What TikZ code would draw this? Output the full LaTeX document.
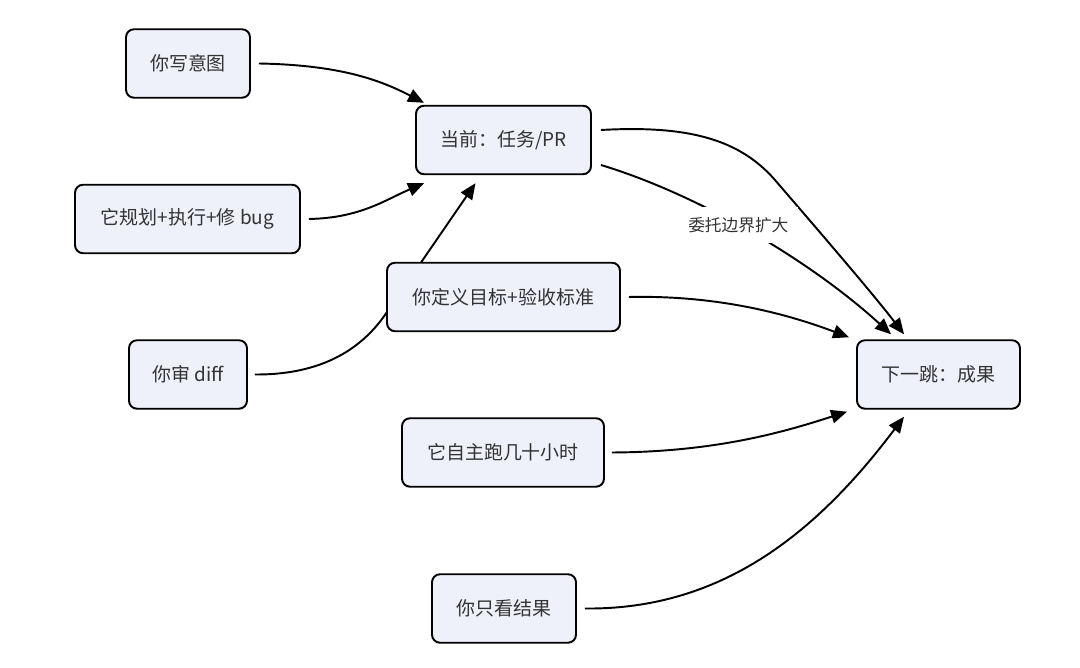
\documentclass[tikz,border=0pt]{standalone}
\usepackage{fontspec}
\setmainfont{Noto Sans CJK SC}
\usetikzlibrary{arrows.meta,backgrounds,calc}
\definecolor{boxfill}{HTML}{EEF0FA}
\definecolor{boxtext}{HTML}{333333}
\tikzset{
	flowbox/.style={draw, line width=1.1pt, rounded corners=0.16cm, fill=boxfill,
		text=boxtext, minimum height=1.37cm, font=\fontsize{10.8}{13}\selectfont},
	flowedge/.style={line width=1.1pt, -{Triangle[length=0.32cm,width=0.27cm]}},
	edgelabel/.style={fill=white, text=boxtext, inner xsep=0.2cm, inner ysep=0.2cm,
		font=\fontsize{9.5}{11}\selectfont},
}
\begin{document}
\begin{tikzpicture}[x=0.02cm, y=-0.02cm]
	\useasboundingbox (0,0) rectangle (1080,668);
	%
	\def\boxes {intent/188/63.5/2.48/你写意图, plan/187.5/219/4.5/它规划+执行+修 bug,
		review/188/374.5/2.36/你审 diff, current/503.5/140/3.5/{当前：任务/PR},
		define/503.5/297/4.66/你定义目标+验收标准, auto/503/452.5/4.04/它自主跑几十小时,
		result/504/608.5/2.88/你只看结果, next/938.5/374.5/3.26/下一跳：成果};
	% draw the boxes
	\foreach \name\x\y\w\txt in \boxes{
		\node[flowbox, minimum width=\w cm] (\name) at (\x,\y) {\txt};
	}
	% edges go behind the boxes
	\begin{scope}[on background layer]
		% into the current step
		\draw[flowedge] ($(intent.east)+(8,0)$)
			.. controls (340,65) and (380,80)
			.. ($(current.north west)+(9,-2)$);
		\draw[flowedge] ($(plan.east)+(8,0)$)
			.. controls (360,218) and (385,200)
			.. ($(current.south west)+(9,8)$);
		\draw[flowedge] ($(review.east)+(7,0)$)
			.. controls (330,375) and (367,342)
			.. (387,312)
			-- ($(current.south)+(-28,8)$);
		% from the current step to the next one
		\draw[flowedge] ($(current.east)+(9,-10)$)
			.. controls (690,125) and (740,140)
			.. (775,180)
			.. controls (805,215) and (870,290)
			.. ($(next.north west)+(48,-5)$);
		\draw[flowedge] ($(current.east)+(9,25)$)
			.. controls (700,195) and (812,262)
			.. ($(next.north west)+(35,-5)$)
			node[edgelabel, pos=0.45] {委托边界扩大};
		% into the next step
		\draw[flowedge] ($(define.east)+(8,0)$)
			.. controls (720,295) and (790,315)
			.. ($(next.north west)+(-7,-2)$);
		\draw[flowedge] ($(auto.east)+(7,0)$)
			.. controls (720,452) and (790,430)
			.. ($(next.south west)+(-9,2)$);
		\draw[flowedge] ($(result.east)+(8,0)$)
			.. controls (720,610) and (815,535)
			.. ($(next.south)+(-34.5,7)$);
	\end{scope}
\end{tikzpicture}
\end{document}
